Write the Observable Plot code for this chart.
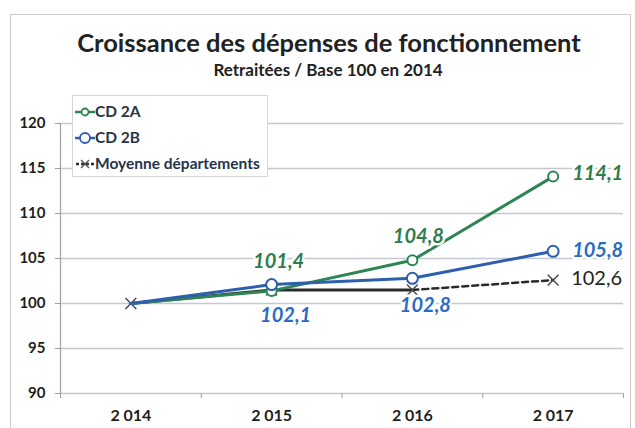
<!DOCTYPE html>
<html><head><meta charset="utf-8">
<script src="https://cdn.jsdelivr.net/npm/d3@7"></script>
<script src="https://cdn.jsdelivr.net/npm/@observablehq/plot@0.6"></script>
<style>
body{margin:0;background:#fff;font-family:Lato,sans-serif;}
#wrap{position:relative;width:635px;height:428px;overflow:hidden;background:#fff;}
#frame{position:absolute;left:10px;top:14px;width:619px;height:440px;border:1px solid #c9cdd2;}
#title{position:absolute;left:0;width:658px;top:28px;text-align:center;font-weight:700;font-size:25.5px;line-height:28px;color:#222;}
#subtitle{position:absolute;left:0;width:656px;top:60px;text-align:center;font-weight:700;font-size:17px;line-height:20px;color:#222;}
#chart{position:absolute;left:0;top:90px;}
#legend{position:absolute;left:72px;top:95px;}
</style>
</head><body>
<div id="wrap">
<div id="frame"></div>
<div id="title">Croissance des dépenses de fonctionnement</div>
<div id="subtitle">Retraitées / Base 100 en 2014</div>
<div id="chart"></div>
<div id="legend"></div>
</div>
<script>
const years = [2014, 2015, 2016, 2017];
const yearLabels = ["2 014", "2 015", "2 016", "2 017"];
const seriesNames = ["CD 2A", "CD 2B", "Moyenne départements"];
const cd2a = [100, 101.4, 104.8, 114.1];
const cd2b = [100, 102.1, 102.8, 105.8];
const moyenne = [100, 101.5, 101.5, 102.6];
const yTicks = [90, 95, 100, 105, 110, 115, 120];

const colors = {"CD 2A": "#2e8553", "CD 2B": "#2d5fae", "Moyenne départements": "#2a2a2a"};
const labelColors = {"CD 2A": "#2e7d4f", "CD 2B": "#2a6bc4", "Moyenne départements": "#222"};

const rows = [];
[cd2a, cd2b, moyenne].forEach((arr, s) => arr.forEach((v, i) => rows.push({series: seriesNames[s], year: years[i], value: v})));
const A = rows.filter(d => d.series === "CD 2A");
const B = rows.filter(d => d.series === "CD 2B");
const M = rows.filter(d => d.series === "Moyenne départements");
const fmt = v => d3.format(".1f")(v).replace(".", ",");
const boundaries = years.map(y => y - 0.5).concat([years[years.length - 1] + 0.5]);

const lbl = (d, opts) => Plot.text([d], {
  x: "year", y: "value", text: r => fmt(r.value),
  fontSize: 20, fontStyle: "italic", fontWeight: "bold",
  fill: labelColors[d.series], stroke: "white", strokeWidth: 5, paintOrder: "stroke",
  ...opts
});

const chart = Plot.plot({
  width: 635, height: 338,
  marginTop: 33, marginBottom: 35, marginLeft: 60, marginRight: 12,
  style: {fontFamily: "Lato, sans-serif", background: "transparent", overflow: "visible"},
  x: {type: "linear", domain: [boundaries[0], boundaries[boundaries.length - 1]]},
  y: {domain: [90, 120]},
  marks: [
    Plot.gridY(yTicks, {stroke: "#c3c8d1", strokeOpacity: 1, strokeWidth: 1.3}),
    Plot.ruleX([boundaries[0]], {stroke: "#9aa0a8", strokeWidth: 1.2}),
    Plot.axisY(yTicks, {tickSize: 5, tickPadding: 10, fontSize: 15, fontWeight: "bold", fill: "#1e1e1e", stroke: "#9aa0a8", label: null}),
    Plot.axisX(boundaries, {tickSize: 5, tickFormat: () => "", stroke: "#9aa0a8", label: null}),
    Plot.axisX(years, {tickSize: 0, tickPadding: 16, fontSize: 16, fontWeight: "bold", fill: "#1e1e1e", tickFormat: d => yearLabels[years.indexOf(d)], label: null}),
    Plot.line(M.filter(d => d.year <= 2016), {x: "year", y: "value", stroke: colors["Moyenne départements"], strokeWidth: 3}),
    Plot.line(M.filter(d => d.year >= 2016), {x: "year", y: "value", stroke: colors["Moyenne départements"], strokeWidth: 2.5, strokeDasharray: "6,4"}),
    Plot.dot(M, {x: "year", y: "value", symbol: "times", r: 5, stroke: "#4a4a4a", strokeWidth: 1.5}),
    Plot.line(A, {x: "year", y: "value", stroke: colors["CD 2A"], strokeWidth: 3}),
    Plot.dot(A.filter(d => d.year > 2014), {x: "year", y: "value", r: 5, fill: "white", stroke: colors["CD 2A"], strokeWidth: 2}),
    Plot.line(B, {x: "year", y: "value", stroke: colors["CD 2B"], strokeWidth: 3}),
    Plot.dot(B.filter(d => d.year > 2014), {x: "year", y: "value", r: 5.5, fill: "white", stroke: colors["CD 2B"], strokeWidth: 2}),
    lbl(A[1], {dx: 7, dy: -29}),
    lbl(B[1], {dx: 14, dy: 31}),
    lbl(A[2], {dx: 6, dy: -24}),
    lbl(B[2], {dx: 13, dy: 27}),
    lbl(A[3], {dx: 19, dy: -3, textAnchor: "start"}),
    lbl(B[3], {dx: 19, dy: -1, textAnchor: "start"}),
    lbl(M[3], {dx: 18, dy: -2, textAnchor: "start", fontStyle: "normal", fontWeight: "normal"})
  ]
});
document.getElementById("chart").appendChild(chart);

// Legend
const lw = 196, lh = 82;
const leg = d3.select("#legend").append("svg").attr("width", lw).attr("height", lh);
leg.append("rect").attr("x", 0.5).attr("y", 0.5).attr("width", lw - 1).attr("height", lh - 1)
  .attr("fill", "white").attr("stroke", "#d3d7dd");
seriesNames.forEach((name, i) => {
  const g = leg.append("g").attr("transform", `translate(0,${17 + i * 26})`);
  const c = colors[name];
  if (name === "Moyenne départements") {
    g.append("line").attr("x1", 4).attr("x2", 22).attr("stroke", c).attr("stroke-width", 2.5).attr("stroke-dasharray", "3,2");
    g.append("path").attr("d", "M9,-4L17,4M9,4L17,-4").attr("stroke", "#555").attr("stroke-width", 1.4).attr("fill", "none");
  } else {
    g.append("line").attr("x1", 3).attr("x2", 23).attr("stroke", c).attr("stroke-width", 2.5);
    g.append("circle").attr("cx", 13).attr("r", name === "CD 2A" ? 3.5 : 5).attr("fill", "white").attr("stroke", c).attr("stroke-width", 1.8);
  }
  g.append("text").attr("x", 23).attr("dy", "0.35em").attr("font-size", 15.5).attr("font-weight", "bold")
    .attr("font-family", "Lato, sans-serif").attr("fill", "#26344a").text(name);
});
</script>
</body></html>
